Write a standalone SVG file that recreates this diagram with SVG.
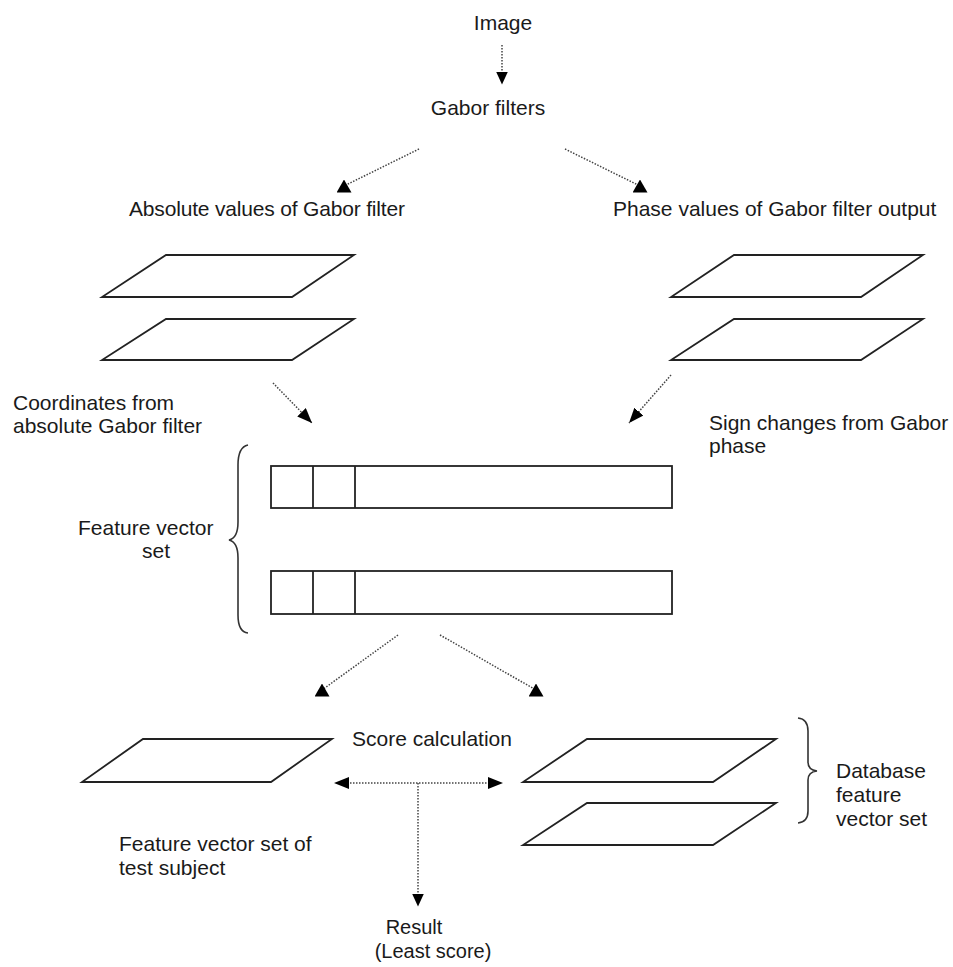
<svg xmlns="http://www.w3.org/2000/svg" width="953" height="967" viewBox="0 0 953 967">
<style>
text{font-family:"Liberation Sans",Arial,sans-serif;font-size:21px;fill:#1a1a1a}
.sm{font-size:20px}
.sh{fill:#fff;stroke:#222;stroke-width:1.8;stroke-linejoin:miter}
.br{fill:none;stroke:#333;stroke-width:1.6}
.dot{fill:none;stroke:#444;stroke-width:1.5;stroke-dasharray:1.5 1.5}
</style>
<defs>
<marker id="up" viewBox="0 0 15 13" refX="7.5" refY="6.5" markerWidth="15" markerHeight="13" markerUnits="userSpaceOnUse" orient="0"><path d="M0,13 L7.5,0 L15,13 Z" fill="#000"/></marker>
<marker id="down" viewBox="0 0 12 13" refX="6" refY="6.5" markerWidth="12" markerHeight="13" markerUnits="userSpaceOnUse" orient="0"><path d="M0,0 L12,0 L6,13 Z" fill="#000"/></marker>
<marker id="left" viewBox="0 0 15 12" refX="7" refY="6" markerWidth="15" markerHeight="12" markerUnits="userSpaceOnUse" orient="0"><path d="M0,6 L15,0 L15,12 Z" fill="#000"/></marker>
<marker id="right" viewBox="0 0 15 12" refX="8" refY="6" markerWidth="15" markerHeight="12" markerUnits="userSpaceOnUse" orient="0"><path d="M15,6 L0,0 L0,12 Z" fill="#000"/></marker>
<marker id="ah" viewBox="0 0 15 12" refX="15" refY="6" markerWidth="15" markerHeight="12" markerUnits="userSpaceOnUse" orient="auto"><path d="M0,0 L15,6 L0,12 Z" fill="#000"/></marker>
</defs>

<g id="image"><text x="503" y="30" text-anchor="middle">Image</text></g>
<g id="gabor-filters"><text x="488" y="115" text-anchor="middle">Gabor filters</text></g>
<g id="absolute-values"><text x="129" y="216" textLength="276">Absolute values of Gabor filter</text></g>
<g id="phase-values"><text x="613" y="216">Phase values of Gabor filter output</text></g>

<g id="abs-maps">
<polygon class="sh" points="166,255 354,255 292,297 102,297"/>
<polygon class="sh" points="166,319 354,319 292,360 102,360"/>
</g>
<g id="phase-maps">
<polygon class="sh" points="734,255 923,255 861,297 671,297"/>
<polygon class="sh" points="734,319 923,319 861,360 671,360"/>
</g>

<g id="coordinates-label"><text x="13" y="410">Coordinates from</text><text x="13" y="433">absolute Gabor filter</text></g>
<g id="sign-changes-label"><text x="709" y="430">Sign changes from Gabor</text><text x="709" y="453">phase</text></g>

<g id="feature-vector-set">
<rect class="sh" x="271" y="466" width="401" height="42"/>
<line class="sh" x1="313" y1="466" x2="313" y2="508"/>
<line class="sh" x1="355" y1="466" x2="355" y2="508"/>
<rect class="sh" x="271" y="571" width="401" height="43"/>
<line class="sh" x1="313" y1="571" x2="313" y2="614"/>
<line class="sh" x1="355" y1="571" x2="355" y2="614"/>
<path class="br" d="M248,445 Q238,447 238,465 L238,522 Q238,538 229,540 Q238,542 238,558 L238,615 Q238,632 248,633"/>
<text x="78" y="535">Feature vector</text>
<text x="142" y="558">set</text>
</g>

<g id="test-subject">
<polygon class="sh" points="143,739 332,739 271,782 82,782"/>
<text x="119" y="851">Feature vector set of</text>
<text x="119" y="875">test subject</text>
</g>

<g id="score-calculation"><text x="352" y="746">Score calculation</text></g>

<g id="database">
<polygon class="sh" points="587,739 776,739 713,782 523,782"/>
<polygon class="sh" points="587,803 776,803 713,845 523,845"/>
<path class="br" d="M798,718 Q808,719 808,731 L808,762 Q808,770 817,771 Q808,772 808,780 L808,811 Q808,822 798,823"/>
<text x="836" y="778">Database</text>
<text x="836" y="802">feature</text>
<text x="836" y="826">vector set</text>
</g>

<g id="result"><text class="sm" x="414" y="934" text-anchor="middle">Result</text><text class="sm" x="433" y="958" text-anchor="middle">(Least score)</text></g>

<g id="connectors">
<line class="dot" x1="502" y1="45" x2="502" y2="78" marker-end="url(#down)"/>
<line class="dot" x1="419" y1="149" x2="344" y2="186" marker-end="url(#up)"/>
<line class="dot" x1="565" y1="149" x2="640" y2="186" marker-end="url(#up)"/>
<line class="dot" x1="273" y1="383" x2="312" y2="423" marker-end="url(#ah)"/>
<line class="dot" x1="671" y1="375" x2="629" y2="423" marker-end="url(#ah)"/>
<line class="dot" x1="398" y1="635" x2="322" y2="690" marker-end="url(#up)"/>
<line class="dot" x1="440" y1="635" x2="536" y2="690" marker-end="url(#up)"/>
<line class="dot" x1="341" y1="783" x2="496" y2="783" marker-start="url(#left)" marker-end="url(#right)"/>
<line class="dot" x1="418" y1="783" x2="418" y2="900" marker-end="url(#down)"/>
</g>
</svg>
